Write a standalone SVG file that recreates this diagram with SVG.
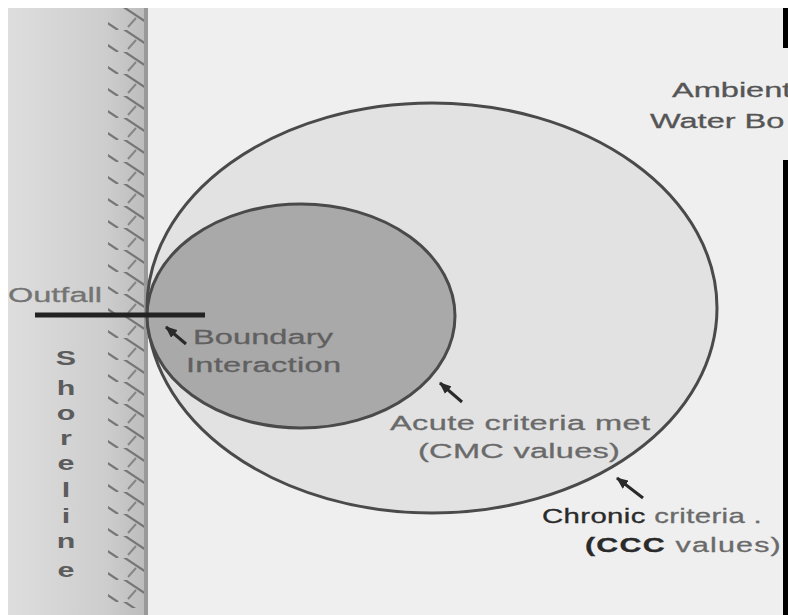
<svg xmlns="http://www.w3.org/2000/svg" width="788" height="615" viewBox="0 0 788 615">
  <defs>
    <linearGradient id="shoreGrad" x1="0" y1="0" x2="1" y2="0">
      <stop offset="0" stop-color="#dedede"/>
      <stop offset="0.7" stop-color="#cdcdcd"/>
      <stop offset="1" stop-color="#bbbbbb"/>
    </linearGradient>
    <pattern id="hatch" x="0" y="8" width="40" height="22" patternUnits="userSpaceOnUse">
      <line x1="2" y1="-2" x2="38" y2="22" stroke="#767676" stroke-width="2.2"/>
      <line x1="8" y1="19" x2="16" y2="10" stroke="#858585" stroke-width="2"/>
    </pattern>
    <marker id="arrow" viewBox="0 0 12 10" refX="11" refY="5" markerWidth="12" markerHeight="10" markerUnits="userSpaceOnUse" orient="auto">
      <path d="M0,0 L12,5 L0,10 z" fill="#2a2a2a"/>
    </marker>
    <style>
      .lbl { font-family: "Liberation Sans", Arial, sans-serif; font-size: 21px; fill: #6a6a6a; stroke: #6a6a6a; stroke-width: 0.3; }
      .dark { fill: #2a2a2a; stroke: #2a2a2a; }
      .ptr { stroke: #2a2a2a; stroke-width: 3; fill: none; marker-end: url(#arrow); }
      .zone { stroke: #4a4a4a; stroke-width: 3; }
    </style>
  </defs>

  <rect x="0" y="0" width="788" height="615" fill="#ffffff"/>
  <rect x="8" y="8" width="780" height="607" fill="#efefef"/>

  <g id="shore">
    <rect x="8" y="8" width="140" height="607" fill="url(#shoreGrad)"/>
    <rect x="108" y="8" width="40" height="600" fill="url(#hatch)"/>
    <line x1="146" y1="8" x2="146" y2="615" stroke="#999" stroke-width="4"/>
    <g class="lbl" font-weight="bold" text-anchor="middle" style="fill:#5c5c5c;stroke:none">
      <g transform="translate(66,0) scale(1.45,1)">
        <text x="0" y="365">S</text>
        <text x="0" y="395">h</text>
        <text x="0" y="420">o</text>
        <text x="0" y="445">r</text>
        <text x="0" y="470">e</text>
        <text x="0" y="497">l</text>
        <text x="0" y="523">i</text>
        <text x="0" y="548">n</text>
        <text x="0" y="577">e</text>
      </g>
    </g>
  </g>

  <g id="chronic-zone">
    <ellipse class="zone" cx="432" cy="308" rx="285" ry="205" fill="#e2e2e2"/>
  </g>

  <g id="acute-zone">
    <ellipse class="zone" cx="301" cy="316" rx="154" ry="112" fill="#a9a9a9"/>
  </g>

  <g id="outfall">
    <line x1="35" y1="315" x2="205" y2="315" stroke="#222" stroke-width="5"/>
    <text class="lbl" transform="translate(8,302) scale(1.55,1)" textLength="60.6" lengthAdjust="spacing" style="fill:#747474;stroke:#747474">Outfall</text>
  </g>

  <g id="boundary-label">
    <text class="lbl" transform="translate(193,344) scale(1.55,1)" textLength="90.3" lengthAdjust="spacing" style="fill:#606060;stroke:#606060">Boundary</text>
    <text class="lbl" transform="translate(186,372) scale(1.55,1)" textLength="100" lengthAdjust="spacing" style="fill:#606060;stroke:#606060">Interaction</text>
  </g>

  <g id="acute-label">
    <text class="lbl" transform="translate(390,430) scale(1.55,1)" textLength="167.7" lengthAdjust="spacing">Acute criteria met</text>
    <text class="lbl" transform="translate(418,458) scale(1.55,1)" textLength="130.3" lengthAdjust="spacing">(CMC values)</text>
  </g>

  <g id="chronic-label">
    <text class="lbl" transform="translate(542,523) scale(1.4,1)" textLength="157" lengthAdjust="spacing"><tspan class="dark">Chronic</tspan> criteria .</text>
    <text class="lbl" transform="translate(585,552) scale(1.45,1)" textLength="135" lengthAdjust="spacing"><tspan class="dark" font-weight="bold">(CCC</tspan> values)</text>
  </g>

  <g id="ambient-label">
    <text class="lbl" transform="translate(672,97) scale(1.55,1)" style="fill:#555;stroke:#555">Ambient</text>
    <text class="lbl" transform="translate(650,128) scale(1.55,1)" style="fill:#555;stroke:#555">Water Bo</text>
  </g>

  <g id="connectors">
    <line class="ptr" x1="186" y1="344" x2="166" y2="327"/>
    <line class="ptr" x1="462" y1="402" x2="440" y2="383"/>
    <line class="ptr" x1="643" y1="498" x2="617" y2="478"/>
  </g>

  <g id="frame">
    <rect x="783" y="8" width="5" height="40" fill="#000"/>
    <rect x="783" y="160" width="5" height="455" fill="#000"/>
  </g>
</svg>
